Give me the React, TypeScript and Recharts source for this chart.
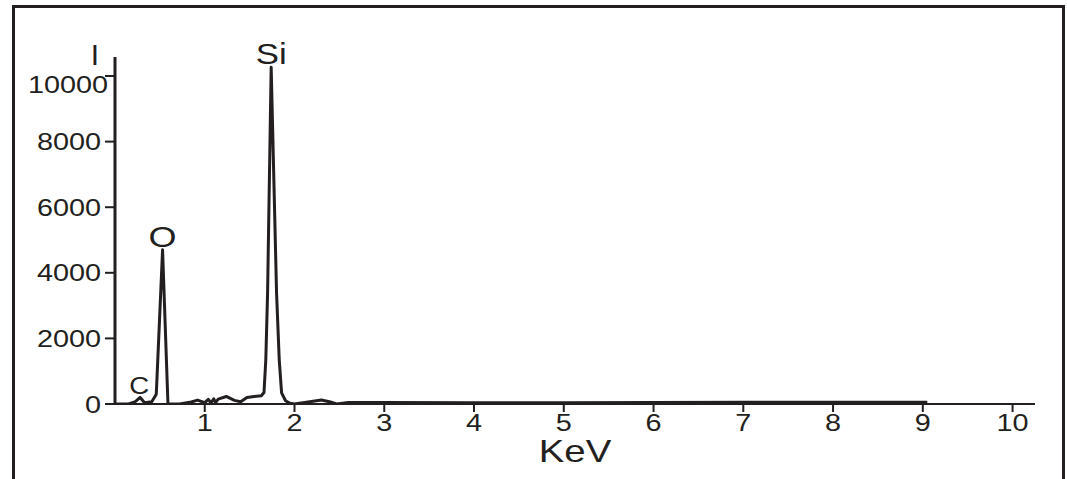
import { Line, LineChart, ReferenceDot, XAxis, YAxis } from "recharts";

// ─── Data ─────────────────────────────────────────────────────────────────────

const KEV = [
  0, 0.15, 0.22, 0.28, 0.33, 0.41, 0.46, 0.53, 0.59, 0.72, 0.85, 0.92, 1.0, 1.04,
  1.07, 1.1, 1.12, 1.15, 1.24, 1.33, 1.4, 1.47, 1.55, 1.63, 1.66, 1.68, 1.7, 1.74,
  1.8, 1.83, 1.856, 1.9, 1.95, 2.0, 2.15, 2.3, 2.4, 2.47, 2.6, 3.0, 4.0, 5.0, 6.0,
  7.0, 7.8, 8.5, 9.05,
];

const COUNTS = [
  0, 0, 60, 200, 40, 70, 300, 4700, 0, 0, 60, 120, 40, 140, 30, 160, 40, 150, 230,
  110, 70, 200, 230, 250, 350, 1340, 3380, 10270, 3380, 1340, 340, 100, 20, 0, 60,
  120, 60, 0, 45, 45, 40, 40, 45, 50, 55, 50, 50,
];

const X_TICKS = [1, 2, 3, 4, 5, 6, 7, 8, 9, 10];
const Y_TICKS = [0, 2000, 4000, 6000, 8000, 10000];

const PEAK_NAMES = ["C", "O", "Si"];
const PEAK_KEV = [0.27, 0.53, 1.74];
const PEAK_COUNTS = [200, 4700, 10270];
const PEAK_FONT = [23, 30, 29];

const spectrum = KEV.map((kev, i) => ({ kev, counts: COUNTS[i] }));

// ─── Styles ───────────────────────────────────────────────────────────────────

const INK = "#231f20";
const FONT = '"Liberation Sans", Arial, sans-serif';
const STRETCH = 1.2;

function XTick({ x, y, payload }: any) {
  return (
    <text
      transform={`translate(${x},${y + 17}) scale(${STRETCH},1)`}
      textAnchor="middle"
      fill={INK}
      fontSize={24}
      fontFamily={FONT}
    >
      {payload.value}
    </text>
  );
}

function YTick({ x, y, payload }: any) {
  const top = payload.value === 10000;
  return (
    <text
      transform={`translate(${top ? x + 5 : x - 2},${y + (top ? 17 : 8.5)}) scale(${STRETCH},1)`}
      textAnchor="end"
      fill={INK}
      fontSize={24}
      fontFamily={FONT}
    >
      {payload.value}
    </text>
  );
}

function PeakLabel({ viewBox, text, size }: any) {
  const cx = viewBox.x + viewBox.width / 2;
  const cy = viewBox.y + viewBox.height / 2;
  return (
    <text
      transform={`translate(${cx},${cy - 3}) scale(${STRETCH},1)`}
      textAnchor="middle"
      fill={INK}
      fontSize={size}
      fontFamily={FONT}
    >
      {text}
    </text>
  );
}

function AxisLabelI({ viewBox }: any) {
  return (
    <text
      x={viewBox.x + viewBox.width - 20}
      y={viewBox.y + 8}
      textAnchor="middle"
      fill={INK}
      fontSize={30}
      fontFamily={FONT}
    >
      I
    </text>
  );
}

function AxisLabelKeV({ viewBox }: any) {
  return (
    <text
      transform={`translate(${viewBox.x + viewBox.width / 2},${viewBox.y + 58}) scale(${STRETCH},1)`}
      textAnchor="middle"
      fill={INK}
      fontSize={32}
      fontFamily={FONT}
    >
      KeV
    </text>
  );
}

// ─── Chart ────────────────────────────────────────────────────────────────────

export default function App() {
  return (
    <div
      style={{
        position: "fixed",
        left: 0,
        top: 0,
        width: 1067,
        height: 479,
        overflow: "hidden",
        background: "#fff",
      }}
    >
      <div
        style={{
          position: "absolute",
          left: 12,
          top: 5,
          width: 1053,
          height: 520,
          boxSizing: "border-box",
          borderTop: `3px solid ${INK}`,
          borderLeft: `3px solid ${INK}`,
          borderRight: `3px solid ${INK}`,
        }}
      />
      <div style={{ position: "absolute", left: 0, top: 0 }}>
        <LineChart
          width={1067}
          height={479}
          data={spectrum}
          margin={{ top: 57, right: 32, bottom: 0, left: 0 }}
        >
          <XAxis
            type="number"
            dataKey="kev"
            domain={[0, 10.25]}
            ticks={X_TICKS}
            allowDataOverflow
            height={75}
            tickSize={8}
            tickMargin={2}
            axisLine={{ stroke: INK, strokeWidth: 2 }}
            tickLine={{ stroke: INK, strokeWidth: 2 }}
            tick={<XTick />}
            label={{ content: (p: any) => <AxisLabelKeV {...p} /> }}
          />
          <YAxis
            type="number"
            domain={[0, 10580]}
            ticks={Y_TICKS}
            allowDataOverflow
            width={115}
            tickSize={10}
            tickMargin={2}
            axisLine={{ stroke: INK, strokeWidth: 3 }}
            tickLine={{ stroke: INK, strokeWidth: 2 }}
            tick={<YTick />}
            label={{ content: (p: any) => <AxisLabelI {...p} /> }}
          />
          <Line
            type="linear"
            dataKey="counts"
            stroke={INK}
            strokeWidth={3}
            strokeLinejoin="round"
            dot={false}
            activeDot={false}
            isAnimationActive={false}
          />
          {PEAK_NAMES.map((name, i) => (
            <ReferenceDot
              key={name}
              x={PEAK_KEV[i]}
              y={PEAK_COUNTS[i]}
              r={1}
              fill="none"
              stroke="none"
              label={{
                content: (p: any) => <PeakLabel {...p} text={name} size={PEAK_FONT[i]} />,
              }}
            />
          ))}
        </LineChart>
      </div>
    </div>
  );
}
